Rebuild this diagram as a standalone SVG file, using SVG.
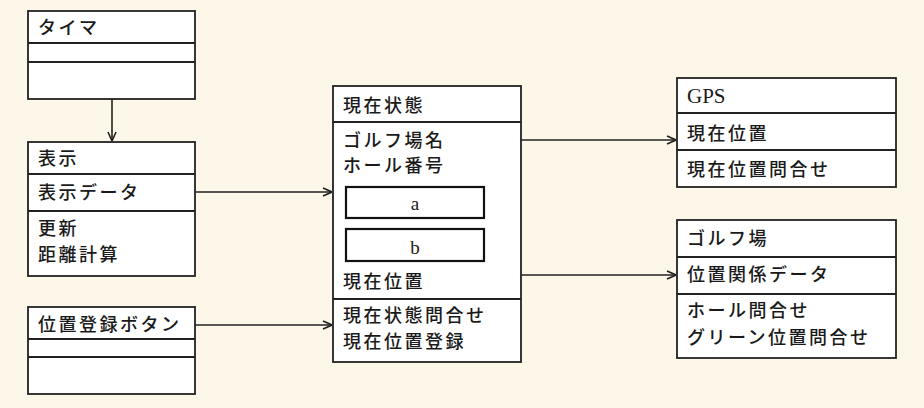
<svg xmlns="http://www.w3.org/2000/svg" width="924" height="408" viewBox="0 0 924 408">
<style>
.box{fill:#fff;stroke:#222;stroke-width:1.8}
.inner{fill:#fff;stroke:#111;stroke-width:2.2}
.div{stroke:#222;stroke-width:1.8}
.t{font-family:"Noto Sans CJK JP","Noto Sans",sans-serif;font-size:18px;font-weight:500;letter-spacing:2.5px;fill:#1a1a1a}
.s{font-family:"Liberation Serif",serif;fill:#1a1a1a}
.c{fill:none;stroke:#222;stroke-width:1.6}
</style>
<defs>
<marker id="ar" viewBox="0 0 10 10" refX="10" refY="5" markerWidth="10" markerHeight="10" markerUnits="userSpaceOnUse" orient="auto">
<path d="M1,1 L10,5 L1,9" fill="none" stroke="#222" stroke-width="1.6"/>
</marker>
</defs>
<rect width="924" height="408" fill="#FDF7E9"/>
<g id="timer">
<rect class="box" x="28" y="11" width="167" height="88"/>
<line class="div" x1="28" y1="43" x2="195" y2="43"/>
<line class="div" x1="28" y1="62" x2="195" y2="62"/>
<text class="t" x="38" y="34">タイマ</text>
</g>
<g id="display">
<rect class="box" x="28" y="142" width="167" height="134"/>
<line class="div" x1="28" y1="174" x2="195" y2="174"/>
<line class="div" x1="28" y1="211" x2="195" y2="211"/>
<text class="t" x="38" y="165">表示</text>
<text class="t" x="38" y="199">表示データ</text>
<text class="t" x="38" y="235">更新</text>
<text class="t" x="38" y="261">距離計算</text>
</g>
<g id="button">
<rect class="box" x="28" y="307" width="167" height="87"/>
<line class="div" x1="28" y1="339" x2="195" y2="339"/>
<line class="div" x1="28" y1="357" x2="195" y2="357"/>
<text class="t" x="38" y="331">位置登録ボタン</text>
</g>
<g id="state">
<rect class="box" x="333" y="86" width="188" height="276"/>
<line class="div" x1="333" y1="122" x2="521" y2="122"/>
<line class="div" x1="333" y1="299" x2="521" y2="299"/>
<text class="t" x="343" y="112">現在状態</text>
<text class="t" x="343" y="147">ゴルフ場名</text>
<text class="t" x="343" y="172">ホール番号</text>
<rect class="inner" x="346" y="187" width="138" height="31"/>
<text class="s" x="415" y="210" font-size="19" text-anchor="middle">a</text>
<rect class="inner" x="346" y="229" width="138" height="32"/>
<text class="s" x="415" y="254" font-size="19" text-anchor="middle">b</text>
<text class="t" x="343" y="288">現在位置</text>
<text class="t" x="343" y="322">現在状態問合せ</text>
<text class="t" x="343" y="348">現在位置登録</text>
</g>
<g id="gps">
<rect class="box" x="677" y="78" width="219" height="109"/>
<line class="div" x1="677" y1="113" x2="896" y2="113"/>
<line class="div" x1="677" y1="150" x2="896" y2="150"/>
<text class="s" x="687" y="103" font-size="21">GPS</text>
<text class="t" x="687" y="140">現在位置</text>
<text class="t" x="687" y="176">現在位置問合せ</text>
</g>
<g id="golf">
<rect class="box" x="677" y="220" width="219" height="138"/>
<line class="div" x1="677" y1="257" x2="896" y2="257"/>
<line class="div" x1="677" y1="294" x2="896" y2="294"/>
<text class="t" x="687" y="245">ゴルフ場</text>
<text class="t" x="687" y="281">位置関係データ</text>
<text class="t" x="687" y="317">ホール問合せ</text>
<text class="t" x="687" y="344">グリーン位置問合せ</text>
</g>
<g id="connectors">
<line class="c" x1="112" y1="99" x2="112" y2="141" marker-end="url(#ar)"/>
<line class="c" x1="195" y1="192" x2="332" y2="192" marker-end="url(#ar)"/>
<line class="c" x1="195" y1="325" x2="332" y2="325" marker-end="url(#ar)"/>
<line class="c" x1="521" y1="140" x2="676" y2="140" marker-end="url(#ar)"/>
<line class="c" x1="521" y1="275" x2="676" y2="275" marker-end="url(#ar)"/>
</g>
</svg>
